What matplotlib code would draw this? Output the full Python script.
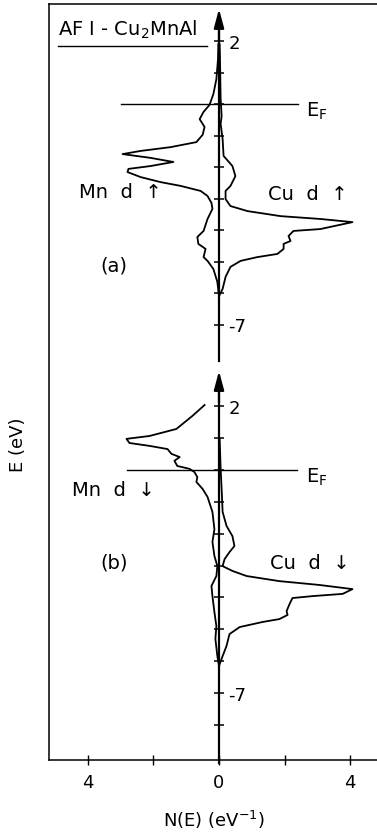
import matplotlib
matplotlib.use("Agg")
import matplotlib.pyplot as plt
from matplotlib.lines import Line2D
import numpy as np

# ---- partial densities of states, AF I - Cu2MnAl ----
# (a) spin up
E_mn_up = [1.9, 1.43, 0.79, 0.32, -0.03, -0.25, -0.48, -0.73, -0.98, -1.21, -1.37,
           -1.49, -1.59, -1.71, -1.84, -1.97, -2.06, -2.16, -2.32, -2.48, -2.60,
           -2.76, -2.92, -3.14, -3.33, -3.65, -4.03, -4.22, -4.44, -4.60, -4.86,
           -4.98, -5.24, -5.65, -6.10]
N_mn_up = [0.02, 0.03, 0.08, 0.17, 0.29, 0.47, 0.59, 0.44, 0.50, 0.69, 1.48,
           2.39, 2.94, 2.09, 1.39, 2.09, 2.76, 2.79, 2.39, 1.78, 1.17,
           0.56, 0.35, 0.23, 0.20, 0.35, 0.47, 0.66, 0.63, 0.41, 0.47,
           0.35, 0.17, 0.05, 0.0]

E_cu_up = [1.9, 1.43, 0.16, -0.38, -0.63, -1.11, -1.65, -1.97, -2.29, -2.60, -2.76,
           -3.02, -3.24, -3.40, -3.56, -3.65, -3.75, -3.97, -4.03, -4.19, -4.35,
           -4.44, -4.60, -4.76, -4.86, -4.98, -5.17, -5.49, -5.87, -6.10]
N_cu_up = [0.02, 0.03, 0.05, 0.08, 0.05, 0.11, 0.14, 0.41, 0.50, 0.35, 0.20,
           0.20, 0.35, 0.87, 1.88, 3.09, 4.07, 3.09, 2.27, 2.12, 2.18,
           1.97, 1.97, 1.78, 1.17, 0.66, 0.35, 0.20, 0.11, 0.0]

# (b) spin down
E_mn_dn = [2.03, 1.69, 1.28, 1.06, 0.97, 0.84, 0.75, 0.65, 0.50, 0.40, 0.28,
           0.12, 0.03, -0.07, -0.23, -0.38, -0.60, -0.85, -1.32, -1.86, -2.26,
           -2.70, -3.02, -3.33, -3.64, -3.96, -4.46, -4.90, -5.30, -5.84, -6.15]
N_mn_dn = [0.44, 0.81, 1.30, 2.12, 2.82, 2.73, 2.12, 1.57, 1.45, 1.20, 1.36,
           1.27, 0.90, 0.75, 0.66, 0.69, 0.50, 0.35, 0.20, 0.14, 0.20,
           0.14, 0.05, 0.08, 0.23, 0.20, 0.14, 0.08, 0.11, 0.05, 0.0]

E_cu_dn = [0.97, 0.03, -0.60, -1.32, -1.76, -2.08, -2.39, -2.58, -2.80, -3.02,
           -3.17, -3.33, -3.49, -3.61, -3.74, -3.89, -3.96, -4.02, -4.21, -4.43,
           -4.55, -4.68, -4.77, -4.93, -5.15, -5.52, -5.84, -6.15]
N_cu_dn = [0.02, 0.05, 0.08, 0.11, 0.23, 0.41, 0.47, 0.32, 0.17, 0.11,
           0.41, 0.84, 1.84, 3.06, 4.07, 3.77, 2.85, 2.24, 2.15, 2.06,
           2.09, 1.84, 1.33, 0.63, 0.32, 0.23, 0.11, 0.0]

# axis ticks and labels
x_ticks = [-4, -2, 0, 2, 4]
x_ticklabels = ["4", "", "0", "", "4"]
e_ticks_a = [2, 1, 0, -1, -2, -3, -4, -5, -6, -7]
e_ticks_b = [2, 1, 0, -1, -2, -3, -4, -5, -6, -7, -8]
e_labelled = {2: "2", -7: "-7"}

# ---- figure geometry (pixels) ----
W, H = 377, 837
x_left_px, x_right_px, x0_px, px_per_unit = 49, 379, 219, 32.8
xlim = ((x_left_px - x0_px) / px_per_unit, (x_right_px - x0_px) / px_per_unit)

fig = plt.figure(figsize=(W / 100, H / 100), dpi=100)
plt.rcParams["font.family"] = ["DejaVu Sans"]


def rect(top_px, bot_px):
    return [x_left_px / W, (H - bot_px) / H, (x_right_px - x_left_px) / W,
            (bot_px - top_px) / H]


# outer frame with the N(E) axis
frame_top, frame_bot = 5, 761
ax0 = fig.add_axes(rect(frame_top, frame_bot))
ax0.set_xlim(*xlim)
ax0.set_ylim(0, 1)
ax0.set_yticks([])
ax0.spines["right"].set_visible(False)
for s in ("left", "top", "bottom"):
    ax0.spines[s].set_linewidth(1.1)
ax0.set_xticks(x_ticks)
ax0.set_xticklabels(x_ticklabels, fontsize=13)
ax0.tick_params(axis="x", direction="inout", length=7, width=1.0, pad=6)
ax0.set_xlabel("N(E) (eV$^{-1}$)", fontsize=13, labelpad=12)
ax0.set_ylabel("E (eV)", fontsize=13)
ax0.yaxis.set_label_coords((27 - x_left_px) / (x_right_px - x_left_px),
                           (frame_bot - 445) / (frame_bot - frame_top))


def panel(top_px, bot_px, e_ref_px, px_per_ev, ticks, spine_lo, arrow_tip):
    ylim = (2 - (bot_px - e_ref_px) / px_per_ev, 2 + (e_ref_px - top_px) / px_per_ev)
    ax = fig.add_axes(rect(top_px, bot_px), facecolor="none")
    ax.set_xlim(*xlim)
    ax.set_ylim(*ylim)
    for s in ("left", "top", "bottom"):
        ax.spines[s].set_visible(False)
    ax.spines["right"].set_position(("data", 0))
    ax.spines["right"].set_linewidth(1.6)
    ax.spines["right"].set_bounds(spine_lo, arrow_tip - 0.3)
    ax.set_xticks([])
    ax.yaxis.tick_right()
    ax.set_yticks(ticks)
    ax.set_yticklabels([e_labelled.get(t, "") for t in ticks], fontsize=13)
    ax.tick_params(axis="y", direction="inout", length=7.5, width=1.1, pad=3)
    ax.annotate("", xy=(0, arrow_tip), xytext=(0, arrow_tip - 1.0),
                arrowprops=dict(arrowstyle="-|>,head_length=0.75,head_width=0.2",
                                mutation_scale=15, lw=1.6, color="k",
                                shrinkA=0, shrinkB=0))
    return ax


ax_a = panel(8, 365, 42, 31.5, e_ticks_a, -8.15, 3.02)
ax_b = panel(368, frame_bot, 407, 31.9, e_ticks_b, -9.2, 3.1)

lw = 1.3
ax_a.plot(-np.array(N_mn_up), E_mn_up, color="k", lw=lw)
ax_a.plot(np.array(N_cu_up), E_cu_up, color="k", lw=lw)
ax_b.plot(-np.array(N_mn_dn), E_mn_dn, color="k", lw=lw)
ax_b.plot(np.array(N_cu_dn), E_cu_dn, color="k", lw=lw)

# Fermi level
ax_a.plot([-3.0, 2.42], [0, 0], color="k", lw=1.0)
ax_b.plot([-2.8, 2.38], [0, 0], color="k", lw=1.0)
ax_a.text(2.65, -0.2, "E$_\\mathrm{F}$", fontsize=14, va="center", ha="left")
ax_b.text(2.65, -0.2, "E$_\\mathrm{F}$", fontsize=14, va="center", ha="left")

# curve labels
ax_a.text(-4.28, -2.79, "Mn  d  \u2191", fontsize=14, va="center", ha="left")
ax_a.text(1.48, -2.83, "Cu  d  \u2191", fontsize=14, va="center", ha="left")
ax_a.text(-3.22, -5.11, "(a)", fontsize=14, va="center", ha="center")
ax_b.text(-4.47, -0.63, "Mn  d  \u2193", fontsize=14, va="center", ha="left")
ax_b.text(1.54, -2.92, "Cu  d  \u2193", fontsize=14, va="center", ha="left")
ax_b.text(-3.2, -2.89, "(b)", fontsize=14, va="center", ha="center")

# title with underline
fig.text(58 / W, 1 - 30 / H, "AF I - Cu$_2$MnAl", fontsize=14, va="center", ha="left")
fig.add_artist(Line2D([58 / W, 207 / W], [1 - 47 / H, 1 - 47 / H],
                      transform=fig.transFigure, color="k", lw=1.0))

fig.savefig("out.png", dpi=100)
